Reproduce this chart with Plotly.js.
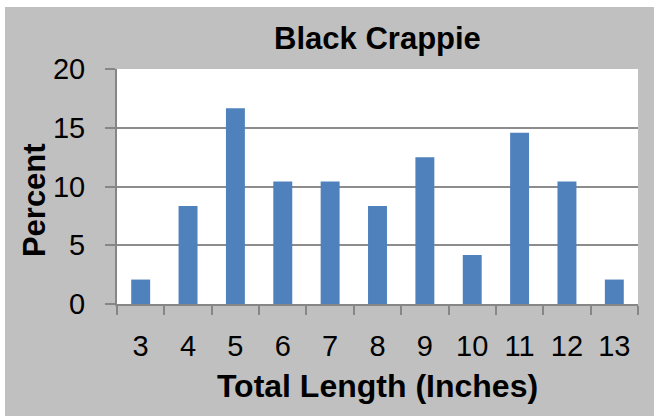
<!DOCTYPE html>
<html>
<head>
<meta charset="utf-8">
<script src="https://cdn.plot.ly/plotly-3.0.1.min.js"></script>
<style>
html,body{margin:0;padding:0;background:#ffffff;overflow:hidden;}
#chart{position:absolute;left:5px;top:7px;width:649px;height:409px;}
</style>
</head>
<body>
<div id="chart"></div>
<script>
const lengths = ["3","4","5","6","7","8","9","10","11","12","13"];
const percents = [2.08, 8.33, 16.67, 10.42, 10.42, 8.33, 12.5, 4.17, 14.58, 10.42, 2.08];
const yTicks = [0, 5, 10, 15, 20];

const trace = {
  type: 'bar',
  x: lengths,
  y: percents,
  marker: {color: '#4f81bd'},
  hoverinfo: 'x+y'
};

const layout = {
  width: 649, height: 409,
  paper_bgcolor: '#c0c0c0',
  plot_bgcolor: '#ffffff',
  margin: {l: 112, r: 16, t: 62, b: 112},
  bargap: 0.6,
  showlegend: false,
  font: {family: 'Liberation Sans, Arial, sans-serif', color: '#000000'},
  title: {
    text: '<b>Black Crappie</b>',
    font: {size: 31, color: '#000000'},
    x: 0.5, xref: 'paper', xanchor: 'center',
    y: 1 - 31/409, yref: 'container', yanchor: 'middle'
  },
  xaxis: {
    type: 'category',
    tickson: 'boundaries',
    ticks: 'outside', ticklen: 9, tickwidth: 2, tickcolor: '#868686',
    showline: true, linecolor: '#868686', linewidth: 2,
    showgrid: false,
    tickfont: {size: 29, color: '#000000'},
    ticklabelstandoff: 15,
    title: {text: '<b>Total Length (Inches)</b>', font: {size: 32, color: '#000000'}, standoff: 14},
    automargin: false
  },
  yaxis: {
    range: [0, 20],
    tickvals: yTicks,
    ticktext: yTicks.map(String),
    ticks: 'outside', ticklen: 10, tickwidth: 2, tickcolor: '#868686',
    showline: true, linecolor: '#868686', linewidth: 2,
    showgrid: true, gridcolor: '#8c8c8c', gridwidth: 2,
    zeroline: false,
    tickfont: {size: 29, color: '#000000'},
    ticklabelstandoff: 14,
    automargin: false
  },
  annotations: [{
    text: '<b>Percent</b>',
    textangle: -90,
    font: {size: 31, color: '#000000'},
    xref: 'paper', yref: 'paper',
    x: -0.157, y: 0.443,
    xanchor: 'center', yanchor: 'middle',
    showarrow: false
  }]
};

Plotly.newPlot('chart', [trace], layout, {displayModeBar: false, staticPlot: true});
</script>
</body>
</html>
